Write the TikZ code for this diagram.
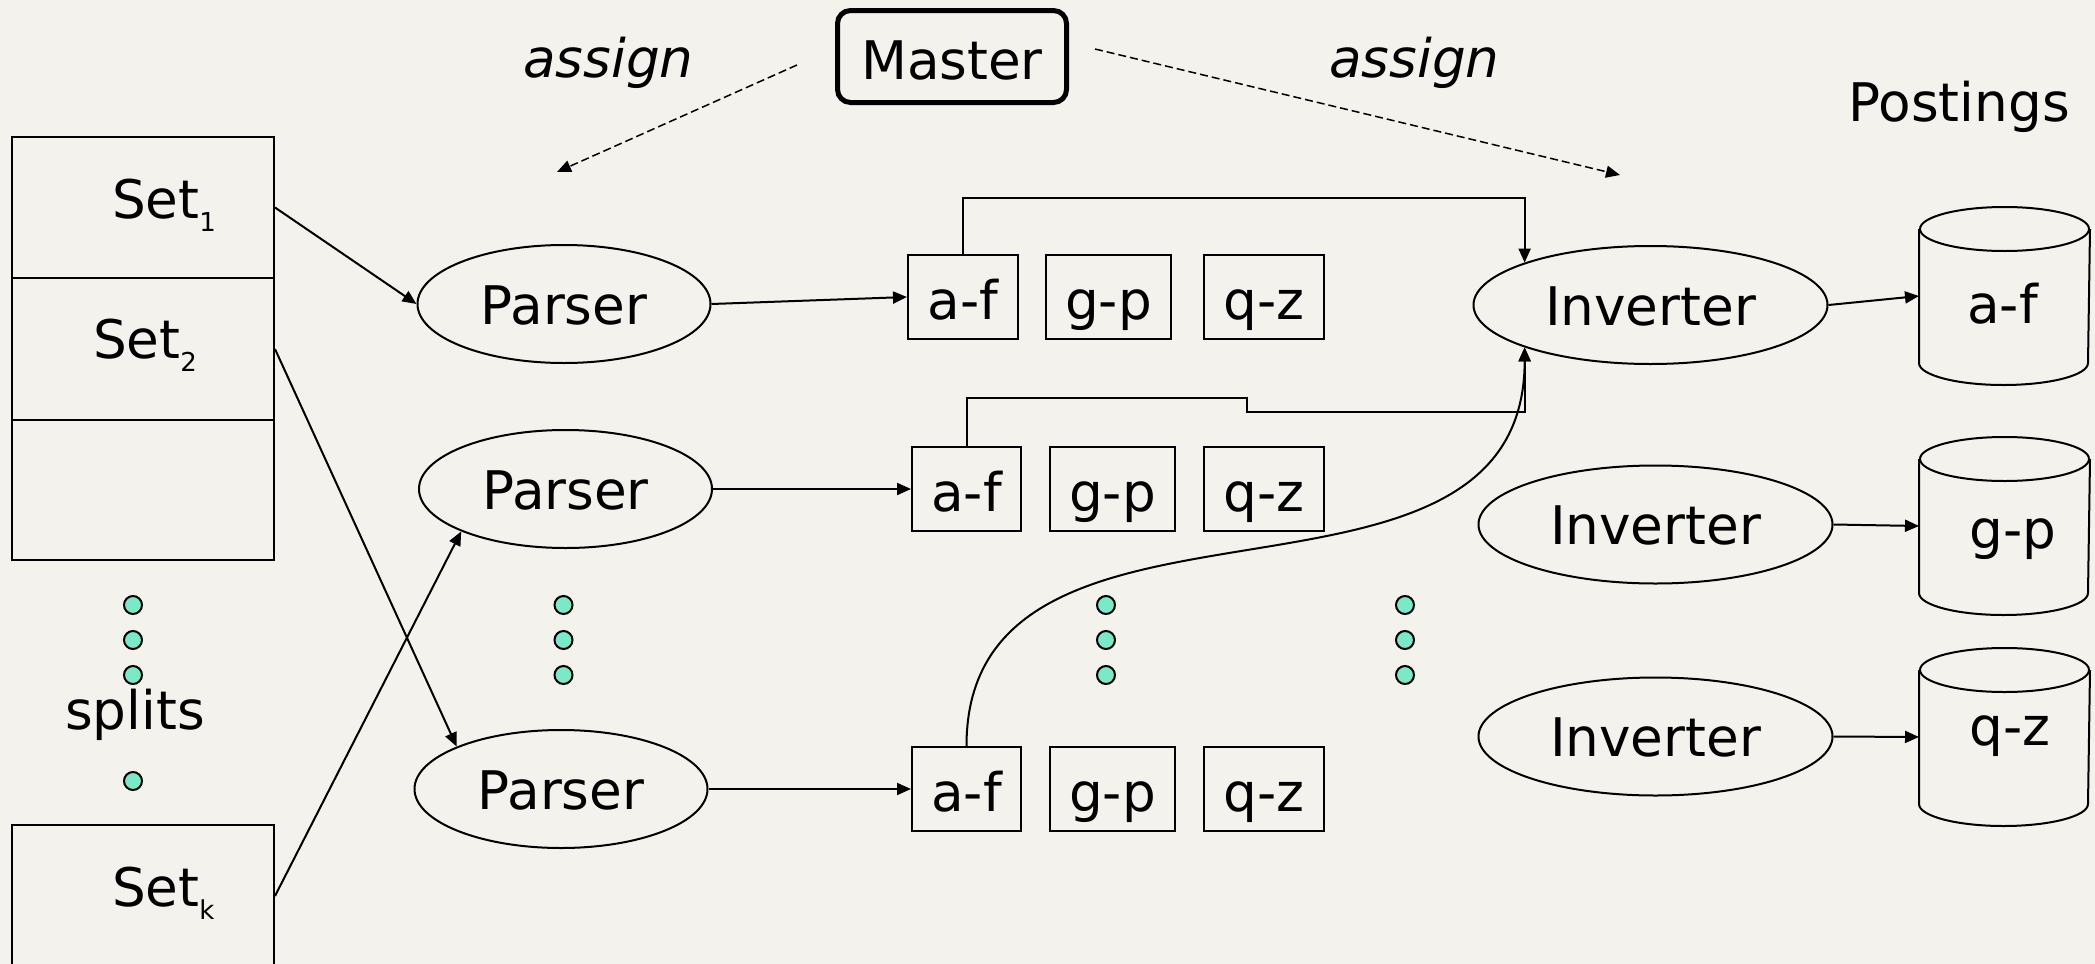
\documentclass[tikz,border=0pt]{standalone}
\usepackage{fontspec}
\setmainfont{DejaVu Sans}
\usetikzlibrary{shapes.geometric,arrows.meta,calc}
\definecolor{bg}{RGB}{243,242,236}
\definecolor{dotc}{RGB}{125,232,200}
\newcommand{\mysub}[1]{\raisebox{-6.5pt}{\fontsize{13}{14}\selectfont #1}}
\begin{document}
\begin{tikzpicture}[x=0.5pt,y=-0.5pt, line width=1pt,
  every node/.style={font=\fontsize{26.6}{30}\selectfont, inner sep=0pt},
  arr/.style={-{Triangle[length=7pt,width=6pt]}},
  dasharr/.style={arr, dash pattern=on 4pt off 2pt, line width=0.75pt},
  cell/.style={draw, rectangle, minimum width=131pt},
  parser/.style={draw, ellipse, minimum width=146.5pt, minimum height=59pt, text height=20.5pt, text depth=0pt},
  inverter/.style={draw, ellipse, minimum width=177pt, minimum height=59pt, text height=20pt, text depth=0pt},
  bucket/.style={draw, rectangle, minimum height=42pt, text height=22pt, text depth=0pt},
  cyl/.style={rectangle, minimum width=84.5pt, minimum height=88pt},
  dot/.style={draw, circle, fill=dotc, minimum size=9pt},
  lbl/.style={anchor=base},
]
\fill[bg] (0,0) rectangle (2095,964);
\useasboundingbox (0,0) rectangle (2095,964);

% master
\node[draw, rounded corners=6.5pt, line width=2.5pt, minimum width=114.5pt, minimum height=46pt, text height=22.5pt, text depth=0pt] (master) at (952,56.5) {Master};
\node[lbl, font=\fontsize{26.6}{30}\selectfont\itshape] (as1) at (608.5,77) {assign};
\node[lbl, font=\fontsize{26.6}{30}\selectfont\itshape] (as2) at (1414.5,77) {assign};
\node[lbl] (post) at (1959,121) {Postings};

% splits
\node[cell, minimum height=70.5pt] (s1) at (143,207.5) {};
\node[cell, minimum height=71pt] (s2) at (143,349) {};
\node[cell, minimum height=70pt] (s3) at (143,490) {};
\node[cell, minimum height=71pt] (sk) at (143,896) {};
\node[anchor=base west] (t1) at (111,218) {Set\mysub{1}};
\node[anchor=base west] (t2) at (92,358) {Set\mysub{2}};
\node[anchor=base west] (tk) at (111,906) {Set\mysub{k}};
\node[lbl] (splits) at (135,729) {splits};

% dots
\foreach \x/\n in {133/a,563.5/b,1106/c,1405/d}{
  \node[dot] (d\n1) at (\x,605) {};
  \node[dot] (d\n2) at (\x,640) {};
  \node[dot] (d\n3) at (\x,675) {};
}
\node[dot] (da4) at (133,781) {};

% parsers
\node[parser] (p1) at (564,304) {Parser};
\node[parser] (p2) at (565.5,489) {Parser};
\node[parser] (p3) at (561,789) {Parser};

% buckets
\node[bucket, minimum width=55pt] (b11) at (963,297) {a-f};
\node[bucket, minimum width=62.5pt] (b12) at (1108.5,297) {g-p};
\node[bucket, minimum width=60pt] (b13) at (1264,297) {q-z};
\node[bucket, minimum width=54.5pt] (b21) at (966.5,489) {a-f};
\node[bucket, minimum width=62.5pt] (b22) at (1112.5,489) {g-p};
\node[bucket, minimum width=60pt] (b23) at (1264,489) {q-z};
\node[bucket, minimum width=54.5pt] (b31) at (966.5,789) {a-f};
\node[bucket, minimum width=62.5pt] (b32) at (1112.5,789) {g-p};
\node[bucket, minimum width=60pt] (b33) at (1264,789) {q-z};

% inverters
\node[inverter] (i1) at (1650.5,305) {Inverter};
\node[inverter] (i2) at (1655.5,524.5) {Inverter};
\node[inverter] (i3) at (1655.5,736.5) {Inverter};

% cylinders
\node[cyl] (c1) at (2004.5,296) {};
\node[cyl] (c2) at (2004.5,526) {};
\node[cyl] (c3) at (2004.5,737) {};
\foreach \c in {c1,c2,c3}{
  \draw ([yshift=-11pt]\c.north) ellipse [x radius=42.25pt, y radius=11pt];
  \draw ([yshift=-11pt]\c.north west) -- ([yshift=11pt]\c.south west)
    arc[start angle=180, end angle=360, x radius=42.25pt, y radius=11pt]
    -- ([yshift=-11pt]\c.north east);
}
\node[lbl] (cl1) at (2002.5,323) {a-f};
\node[lbl] (cl2) at (2013,548) {g-p};
\node[lbl] (cl3) at (2010,745) {q-z};

% connectors
\draw[arr] (s1.east) -- (p1.west);
\draw[arr] (s2.east) -- (p3.north west);
\draw[arr] (sk.east) -- (p2.south west);
\draw[arr] (p1.east) -- (b11.west);
\draw[arr] (p2.east) -- (b21.west);
\draw[arr] (p3.east) -- (b31.west);
\coordinate (h1) at (0,197.5);
\draw[arr] (b11.north) -- (b11.north |- h1) -| (i1.north west);
\coordinate (h2) at (1247,398);
\coordinate (h3) at (1247,412);
\draw[arr] (b21.north) -- (b21.north |- h2) -- (h2) -- (h3) -| (i1.south west);
\draw[arr] (b31.north) .. controls ($(b31.north)+(0,-298)$) and ($(i1.south west)+(0,303)$) .. (i1.south west);
\draw[arr] (i1.east) -- (c1.west);
\draw[arr] (i2.east) -- (c2.west);
\draw[arr] (i3.east) -- (c3.west);

% assign arrows
\coordinate (ml) at (797,65);
\coordinate (al) at (557,172);
\coordinate (mr) at (1095,49);
\coordinate (ar) at (1620,175);
\draw[dasharr] (ml) -- (al);
\draw[dasharr] (mr) -- (ar);
\end{tikzpicture}
\end{document}
